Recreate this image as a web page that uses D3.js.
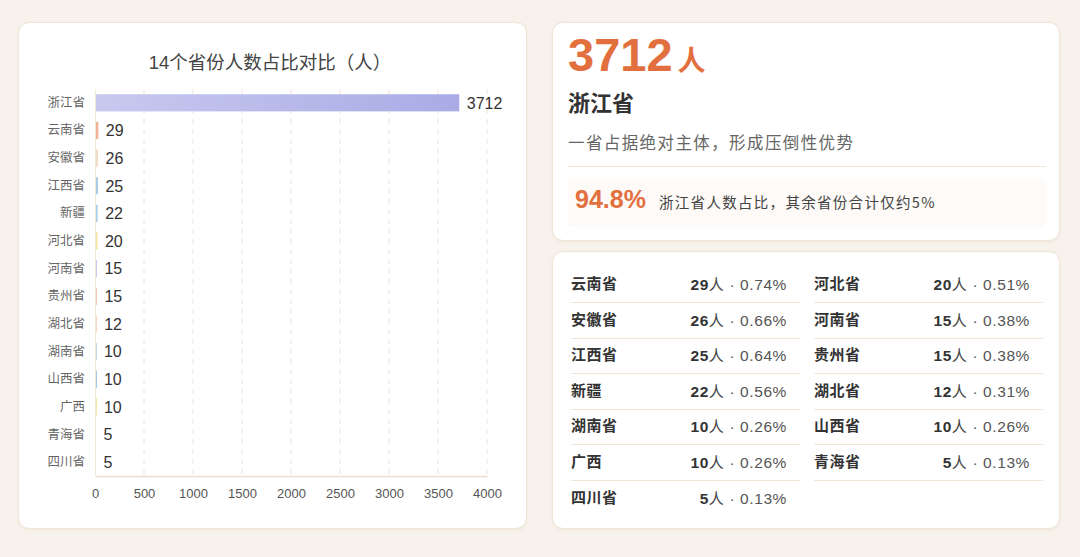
<!DOCTYPE html>
<html><head><meta charset="utf-8">
<script src="https://cdn.jsdelivr.net/npm/d3@7"></script>
<style>
html,body{margin:0;padding:0;}
body{width:1080px;height:557px;background:#f7f2ec;position:relative;overflow:hidden;font-family:"Liberation Sans","Noto Sans CJK SC",sans-serif;}
.card{position:absolute;background:#fff;border:1px solid #f0e4d4;border-radius:11px;box-shadow:0 1px 3px rgba(200,180,150,0.15);box-sizing:border-box;}
.abs{position:absolute;white-space:nowrap;}
</style></head><body>
<div class="card" id="left" style="left:18px;top:22px;width:509px;height:507px;"></div>
<div class="card" id="rtop" style="left:552px;top:22px;width:508px;height:219px;"></div>
<div class="card" id="rbot" style="left:552px;top:251px;width:508px;height:278px;"></div>
<script>
const provinces = ["浙江省","云南省","安徽省","江西省","新疆","河北省","河南省","贵州省","湖北省","湖南省","山西省","广西","青海省","四川省"];
const counts = [3712,29,26,25,22,20,15,15,12,10,10,10,5,5];
const shares = ["94.8%","0.74%","0.66%","0.64%","0.56%","0.51%","0.38%","0.38%","0.31%","0.26%","0.26%","0.26%","0.13%","0.13%"];
const barColors = ["url(#zjGrad)","#f0b39a","#f3dcc6","#a9cbe6","#a9d0e8","#f8e39a","#c9c9ee","#f3c6b4","#f1c8a8","#79b0d9","#4a8ccb","#f1c842","#eeeeee","#eeeeee"];
const xTicks = [0,500,1000,1500,2000,2500,3000,3500,4000];
const tableCol1 = ["云南省","安徽省","江西省","新疆","湖南省","广西","四川省"];
const tableCol2 = ["河北省","河南省","贵州省","湖北省","山西省","青海省"];
const chartTitle = "14个省份人数占比对比（人）";
const headline = {value:"3712", unit:"人", name:"浙江省", desc:"一省占据绝对主体，形成压倒性优势", pct:"94.8%", pctText:"浙江省人数占比，其余省份合计仅约5%"};

// ---- left chart ----
const W = 507, H = 505;
const svg = d3.select("#left").append("svg").attr("width", W).attr("height", H).style("position","absolute").style("left","0").style("top","0");
const defs = svg.append("defs");
const g1 = defs.append("linearGradient").attr("id","zjGrad").attr("x1","0").attr("x2","1").attr("y1","0").attr("y2","0");
g1.append("stop").attr("offset","0").attr("stop-color","#c8c9ef");
g1.append("stop").attr("offset","1").attr("stop-color","#a9abe5");

const x = d3.scaleLinear().domain([0,4000]).range([76,468]);
const y = d3.scaleBand().domain(provinces).range([66,453]).paddingInner(0.38).paddingOuter(0.19);

svg.append("text").attr("x",251).attr("y",46).attr("text-anchor","middle")
  .attr("font-size",18.5).attr("fill","#444").text(chartTitle);

// grid
svg.append("g").selectAll("line").data(xTicks.slice(1)).join("line")
  .attr("x1",d=>x(d)).attr("x2",d=>x(d)).attr("y1",66).attr("y2",453)
  .attr("stroke","#ece2d6").attr("stroke-dasharray","5,5").attr("stroke-width",1);

// bars
svg.append("g").selectAll("rect").data(provinces).join("rect")
  .attr("x",x(0)+0.5).attr("y",d=>y(d)).attr("height",y.bandwidth())
  .attr("width",(d,i)=>Math.max(0,x(counts[i])-x(0)))
  .attr("fill",(d,i)=>barColors[i]);

// axes
const xAxis = svg.append("g").attr("transform",`translate(0,453)`).call(d3.axisBottom(x).tickValues(xTicks).tickFormat(d3.format("d")).tickSize(0).tickPadding(13));
xAxis.select(".domain").attr("stroke","#eadfcd").attr("stroke-width",1.5);
xAxis.selectAll("text").attr("font-size",13).attr("fill","#555").attr("font-family","Liberation Sans, sans-serif");
const yAxis = svg.append("g").attr("transform",`translate(${x(0)},0)`).call(d3.axisLeft(y).tickSize(0).tickPadding(10));
yAxis.select(".domain").attr("stroke","#f1e8d8").attr("stroke-width",1);
yAxis.selectAll("text").attr("font-size",12.5).attr("fill","#666").attr("font-family","Noto Sans CJK SC, sans-serif");

// value labels
svg.append("g").selectAll("text").data(provinces).join("text")
  .attr("x",(d,i)=>x(counts[i])+8).attr("y",d=>y(d)+y.bandwidth()/2).attr("dy","0.36em")
  .attr("font-size",16).attr("fill","#333").text((d,i)=>counts[i]);

// ---- right top ----
const rt = d3.select("#rtop");
const big = rt.append("div").attr("class","abs").style("left","15px").style("top","4px").style("color","#e2703e").style("font-weight","bold");
big.append("span").style("font-size","47px").style("font-family","Liberation Sans, sans-serif").text(headline.value);
big.append("span").style("font-size","28px").style("margin-left","5px").style("font-family","Noto Sans CJK SC").text(headline.unit);
rt.append("div").attr("class","abs").style("left","15px").style("top","62px").style("font-size","22px").style("font-weight","bold").style("color","#333").style("font-family","Noto Sans CJK SC").text(headline.name);
rt.append("div").attr("class","abs").style("left","15px").style("top","107px").style("font-size","16.5px").style("letter-spacing","1.4px").style("color","#666").style("font-family","Noto Sans CJK SC").text(headline.desc);
rt.append("div").attr("class","abs").style("left","15px").style("top","143px").style("width","478px").style("height","1px").style("background","#f1e6d8");
const box = rt.append("div").attr("class","abs").style("left","15px").style("top","156px").style("width","478px").style("height","48px").style("background","#fdfaf7").style("border-radius","4px");
box.append("span").attr("class","abs").style("left","7px").style("top","6px").style("font-size","25px").style("font-weight","bold").style("color","#e2703e").style("font-family","Liberation Sans, sans-serif").text(headline.pct);
box.append("span").attr("class","abs").style("left","91px").style("top","12px").style("font-size","14.5px").style("letter-spacing","1.3px").style("color","#444").style("font-family","Noto Sans CJK SC").text(headline.pctText);

// ---- right bottom table ----
const rb = d3.select("#rbot");
const colX = [18, 261], colW = 229, rowTop = 15, rowH = 35.6;
[tableCol1, tableCol2].forEach((list, col) => {
  list.forEach((p, row) => {
    const i = provinces.indexOf(p);
    const last = (col===0 && row===list.length-1);
    const cell = rb.append("div").attr("class","abs")
      .style("left",colX[col]+"px").style("top",(rowTop+row*rowH)+"px")
      .style("width",colW+"px").style("height",(rowH-0.6)+"px")
      .style("border-bottom", last ? "none" : "1px solid #f1e5d6");
    cell.append("span").attr("class","abs").style("left","0px").style("top","5px")
      .style("font-size","15px").style("letter-spacing","0.5px").style("font-weight","bold").style("color","#333").style("font-family","Noto Sans CJK SC").text(p);
    const v = cell.append("span").attr("class","abs").style("right","13px").style("top","6px").style("font-size","15.5px").style("letter-spacing","0.6px").style("font-family","Liberation Sans, Noto Sans CJK SC");
    v.append("span").style("font-weight","bold").style("color","#333").text(counts[i]);
    v.append("span").style("color","#444").style("font-family","Noto Sans CJK SC").style("font-size","15px").text("人");
    v.append("span").style("color","#555").text(" · " + shares[i]);
  });
});
</script>
</body></html>
